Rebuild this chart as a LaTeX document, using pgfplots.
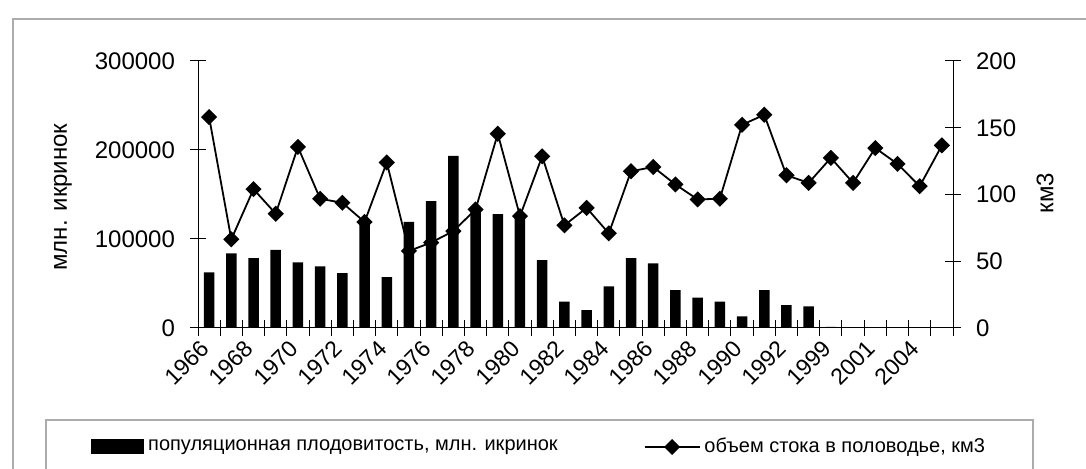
\documentclass[border=0pt]{standalone}
\usepackage{fontspec}
\setmainfont{Liberation Sans}
\usepackage{pgfplots}
\usepackage{pgfplotstable}
\pgfplotsset{compat=1.18}

% idx: category position, eggs: mln eggs, flow: km3
\pgfplotstableread{
idx year eggs flow
0 1966 62500 158
1 1967 83800 66.4
2 1968 78600 104
3 1969 87900 85.6
4 1970 73700 135.6
5 1971 69200 96.8
6 1972 61700 93.8
7 1973 121600 79.4
8 1974 57200 124
9 1975 119300 57.7
10 1976 142500 64
11 1977 193400 72.6
12 1978 134700 88.8
13 1979 128000 145.5
14 1980 128000 83.8
15 1981 76300 128.6
16 1982 29600 76.9
17 1983 20200 90
18 1984 46800 70.9
19 1985 78600 117.4
20 1986 72600 120.6
21 1987 42600 107.5
22 1988 34000 96.3
23 1989 29600 96.8
24 1990 13100 152.2
25 1991 42600 159.7
26 1992 25800 114.4
27 1993 24300 108.7
28 1999 1200 127.4
29 2000 800 108.7
30 2001 0 134.8
31 2003 800 122.9
32 2004 0 106.2
33 2005 0 136.8
}\data

\begin{document}
\begin{tikzpicture}
\useasboundingbox (0,0) rectangle (543pt,-234.5pt);
\draw[gray!65, line width=1pt] (6.5pt,-9.5pt) rectangle (560pt,-260pt);
\draw[gray!65, line width=0.8pt] (23pt,-210pt) rectangle (516.5pt,-260pt);

\pgfplotsset{
  common/.style={
    at={(99pt,-164pt)}, anchor=south west,
    scale only axis, width=377.5pt, height=133.5pt,
    xmin=-0.5, xmax=33.5,
    ymin=0,
    tick align=center,
    axis line style={black, line width=0.5pt},
    tick style={black, line width=0.5pt},
    /pgf/number format/assume math mode=true,
    /pgf/number format/fixed,
    /pgf/number format/1000 sep={},
    scaled y ticks=false,
    clip=false,
  },
}

\begin{axis}[
  common,
  ymax=300000,
  axis y line*=left,
  axis x line*=bottom,
  ytick={0,100000,200000,300000},
  major tick length=8pt,
  xtick={-0.5,0.5,...,33.5},
  xticklabels={},
  extra x ticks={0,2,...,32},
  extra x tick labels={1966,1968,1970,1972,1974,1976,1978,1980,1982,1984,1986,1988,1990,1992,1999,2001,2004},
  extra x tick style={major tick length=0pt, grid=none,
    xticklabel style={font=\fontsize{11.5}{13}\selectfont, rotate=45, anchor=east, xshift=-4pt, yshift=-4.5pt}},
  yticklabel style={font=\fontsize{12}{14}\selectfont, xshift=-4pt},
  ylabel={млн. икринок},
  ylabel style={font=\fontsize{12}{14}\selectfont, at={(axis description cs:-0.1788,0.49)}, anchor=center},
  legend columns=2,
  legend style={draw=none, fill=none, at={(axis description cs:-0.142,-0.4457)}, anchor=west,
    font=\fontsize{10}{12}\selectfont, inner sep=0pt,
    /tikz/every even column/.append style={column sep=41pt}},
]
\addplot[ybar, bar width=5.25pt, fill=black, draw=none,
  legend image code/.code={\fill[black] (0pt,-3.75pt) rectangle (26.5pt,3.75pt);}]
  table[x=idx, y=eggs] {\data};
\addlegendentry{популяционная плодовитость, млн. икринок}
\addlegendimage{black, line width=0.9pt, mark=square*, mark size=2.4pt, mark options={rotate=45},
  legend image code/.code={\draw[mark repeat=2, mark phase=2] plot coordinates {(0pt,0pt) (13.75pt,0pt) (27.5pt,0pt)};}}
\addlegendentry{объем стока в половодье, км3}
\end{axis}

\begin{axis}[
  common,
  ymax=200,
  axis x line=none,
  axis y line*=right,
  ytick={0,50,100,150,200},
  major tick length=8pt,
  yticklabel style={font=\fontsize{12}{14}\selectfont, xshift=4pt},
  ylabel={км3},
  ylabel style={font=\fontsize{12}{14}\selectfont, at={(axis description cs:1.1219,0.5056)}, anchor=center},
]
\addplot[black, line width=0.9pt, mark=square*, mark size=2.4pt, mark options={rotate=45}]
  table[x=idx, y=flow] {\data};
\end{axis}
\end{tikzpicture}
\end{document}
